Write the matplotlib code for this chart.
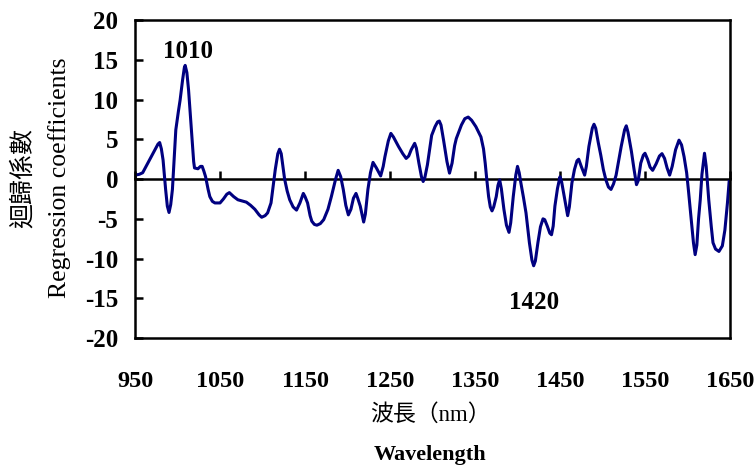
import matplotlib
matplotlib.use('Agg')
import matplotlib.pyplot as plt

plt.rcParams['axes.unicode_minus'] = False

# 波長 (nm) 與迴歸係數
wavelength = [950, 955, 959, 965, 972, 977, 979, 981, 983, 986,
              988, 990, 992, 994, 996, 998, 1001, 1003, 1006, 1008,
              1009, 1011, 1013, 1017, 1019, 1020, 1024, 1027, 1029, 1031,
              1033, 1036, 1038, 1041, 1044, 1050, 1054, 1058, 1061, 1066,
              1071, 1081, 1086, 1091, 1096, 1099, 1103, 1106, 1110, 1113,
              1115, 1118, 1120, 1122, 1124, 1126, 1129, 1132, 1136, 1140,
              1144, 1148, 1150, 1153, 1156, 1158, 1161, 1164, 1168, 1172,
              1177, 1181, 1186, 1189, 1192, 1195, 1198, 1201, 1204, 1207,
              1210, 1212, 1215, 1219, 1221, 1224, 1227, 1230, 1234, 1239,
              1242, 1244, 1248, 1251, 1254, 1260, 1265, 1269, 1272, 1275,
              1279, 1281, 1284, 1287, 1289, 1291, 1294, 1297, 1299, 1303,
              1306, 1308, 1310, 1313, 1317, 1320, 1323, 1326, 1328, 1334,
              1338, 1342, 1346, 1351, 1357, 1360, 1362, 1364, 1366, 1368,
              1370, 1372, 1375, 1377, 1379, 1381, 1384, 1387, 1390, 1392,
              1395, 1398, 1400, 1402, 1404, 1407, 1410, 1414, 1417, 1419,
              1421, 1424, 1427, 1430, 1432, 1435, 1438, 1440, 1442, 1444,
              1447, 1450, 1452, 1455, 1459, 1461, 1464, 1467, 1470, 1472,
              1475, 1479, 1481, 1484, 1488, 1490, 1492, 1495, 1498, 1501,
              1504, 1507, 1510, 1513, 1516, 1519, 1522, 1526, 1528, 1530,
              1534, 1537, 1540, 1542, 1545, 1548, 1550, 1553, 1556, 1559,
              1563, 1567, 1570, 1573, 1576, 1579, 1582, 1586, 1590, 1593,
              1596, 1599, 1601, 1604, 1607, 1609, 1611, 1613, 1615, 1617,
              1620, 1622, 1625, 1628, 1630, 1633, 1637, 1641, 1644, 1647,
              1649]
coef = [0.5, 0.6, 0.8, 2.0, 3.4, 4.4, 4.6, 3.8, 2.4, -1.3,
        -3.4, -4.2, -3.2, -1.3, 2.5, 6.2, 8.5, 9.9, 12.5, 14.0,
        14.3, 13.4, 11.2, 5.3, 2.2, 1.4, 1.3, 1.6, 1.6, 1.0,
        0.3, -1.3, -2.2, -2.8, -3.0, -3.0, -2.5, -1.9, -1.7, -2.2,
        -2.6, -2.9, -3.3, -3.8, -4.5, -4.8, -4.6, -4.25, -3.0, -0.5,
        1.2, 3.2, 3.75, 3.2, 1.6, 0.0, -1.5, -2.6, -3.5, -3.9,
        -3.0, -1.8, -2.2, -3.0, -4.6, -5.3, -5.7, -5.8, -5.6, -5.1,
        -3.8, -2.2, 0.0, 1.1, 0.3, -1.3, -3.3, -4.5, -3.8, -2.4,
        -1.8, -2.4, -3.4, -5.4, -4.4, -1.3, 0.8, 2.1, 1.4, 0.4,
        1.6, 2.8, 4.8, 5.75, 5.3, 4.1, 3.2, 2.6, 2.9, 3.7,
        4.5, 3.9, 2.0, 0.3, -0.3, 0.2, 1.8, 4.0, 5.5, 6.6,
        7.2, 7.3, 6.8, 4.9, 2.2, 0.75, 2.0, 4.2, 5.1, 6.8,
        7.6, 7.8, 7.4, 6.6, 5.3, 3.8, 2.0, -0.2, -2.2, -3.5,
        -4.0, -3.5, -2.2, -0.8, -0.1, -1.2, -3.8, -5.8, -6.7, -5.5,
        -2.2, 0.5, 1.6, 0.8, -0.5, -2.3, -4.25, -8.0, -10.2, -10.9,
        -10.3, -8.0, -6.0, -5.0, -5.1, -5.9, -6.8, -7.0, -5.9, -3.4,
        -1.2, 0.3, -0.4, -2.2, -4.6, -3.5, -0.5, 1.2, 2.3, 2.5,
        1.6, 0.5, 1.6, 4.1, 6.4, 6.9, 6.4, 4.6, 3.0, 1.2,
        -0.1, -1.0, -1.3, -0.6, 0.5, 2.3, 4.1, 6.2, 6.7, 5.9,
        3.5, 1.3, -0.7, -0.2, 2.0, 3.0, 3.25, 2.5, 1.5, 1.1,
        1.9, 2.9, 3.2, 2.6, 1.4, 0.5, 1.6, 3.7, 4.9, 4.3,
        2.8, 0.8, -1.3, -4.6, -8.0, -9.5, -8.3, -5.0, -2.6, 0.6,
        3.25, 1.6, -2.6, -6.0, -8.0, -8.8, -9.1, -8.4, -6.4, -3.0,
        -0.3]

x_ticks = [950, 1050, 1150, 1250, 1350, 1450, 1550, 1650]
y_ticks = [-20, -15, -10, -5, 0, 5, 10, 15, 20]

# 標註的波峰
peak_labels = ['1010', '1420']
peak_pos = [(1012, 16.0), (1420, -15.5)]

serif = 'Liberation Serif'
cjk = ['Liberation Serif', 'Noto Sans CJK TC']

fig = plt.figure(figsize=(7.56, 4.67), dpi=100)
ax = fig.add_axes([0.1786, 0.276, 0.787, 0.681])

ax.plot(wavelength, coef, color='#000080', lw=2.2)
ax.set_xlim(950, 1650)
ax.set_ylim(-20, 20)

for s in ax.spines.values():
    s.set_linewidth(1.8)

ax.set_xticks(x_ticks)
ax.set_yticks(y_ticks)
ax.tick_params(axis='x', length=0, pad=24)
ax.tick_params(axis='y', direction='in', length=6, width=1.8, pad=12)
for lab in ax.get_xticklabels():
    lab.set_fontfamily(serif)
    lab.set_fontweight('bold')
    lab.set_fontsize(17.5)
for lab in ax.get_yticklabels():
    lab.set_fontfamily(serif)
    lab.set_fontweight('bold')
    lab.set_fontsize(18)

# 零線（刻度朝上）
zero = ax.secondary_xaxis(0.5)
zero.set_xticks(x_ticks)
zero.spines['bottom'].set_linewidth(1.8)
zero.spines['top'].set_linewidth(1.8)
zero.tick_params(direction='out', length=6, width=1.8,
                 labelbottom=False, labeltop=False)

for txt, (xp, yp) in zip(peak_labels, peak_pos):
    ax.text(xp, yp, txt, ha='center', va='center', fontsize=18,
            fontweight='bold', family=serif)

# 座標軸標題
fig.text(23 / 756, 1 - 178 / 467, '迴歸係數', rotation=90, ha='center',
         va='center', fontsize=18, family=cjk)
fig.text(60 / 756, 1 - 178 / 467, 'Regression coefficients', rotation=90,
         ha='center', va='center', fontsize=18.5, family=serif)
fig.text(430 / 756, 1 - 415 / 467, '波長（nm）', ha='center', va='center',
         fontsize=16.5, family=cjk)
fig.text(430 / 756, 1 - 455 / 467, 'Wavelength', ha='center', va='center',
         fontsize=16, fontweight='bold', family=serif)

fig.savefig('out.png', dpi=100)
